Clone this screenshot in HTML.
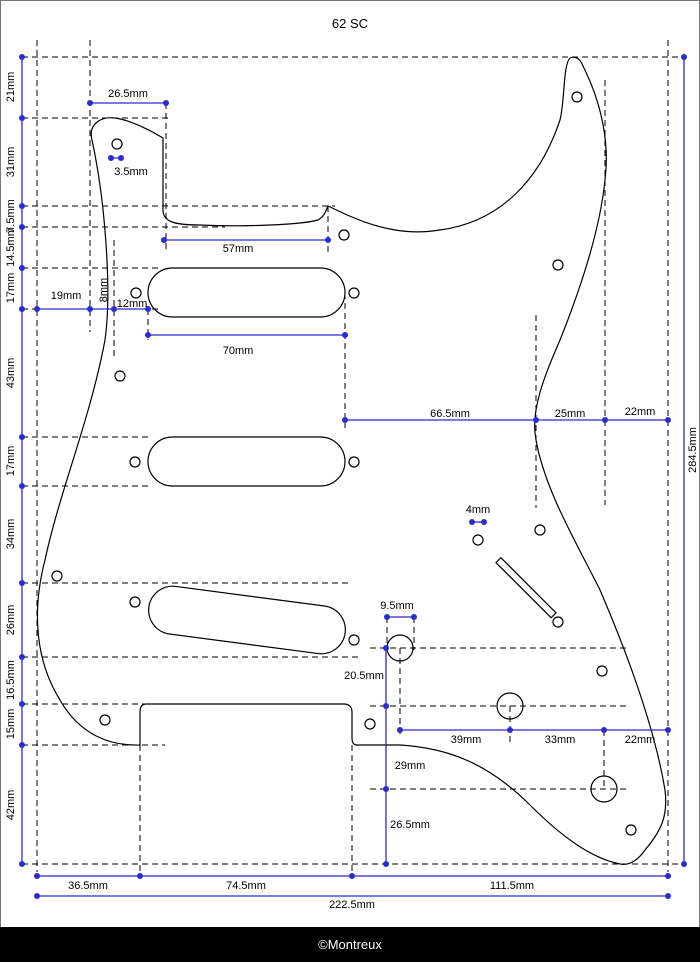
<!DOCTYPE html>
<html><head><style>
html,body{margin:0;padding:0;background:#fff}
svg{display:block}
text{font-family:"Liberation Sans",sans-serif;font-size:11px;fill:#000}
</style></head><body>
<svg width="700" height="962" viewBox="0 0 700 962" xmlns="http://www.w3.org/2000/svg">
<rect x="0.5" y="0.5" width="699" height="961" fill="#fff" stroke="#777"/>
<text x="350" y="28" text-anchor="middle" style="font-size:13px">62 SC</text>
<g stroke="#000" stroke-width="1" stroke-dasharray="6,4" fill="none">
<line x1="22" y1="57" x2="684" y2="57"/>
<line x1="22" y1="118" x2="172" y2="118"/>
<line x1="22" y1="206" x2="335" y2="206"/>
<line x1="22" y1="227" x2="225" y2="227"/>
<line x1="22" y1="268" x2="160" y2="268"/>
<line x1="22" y1="309" x2="160" y2="309"/>
<line x1="22" y1="437" x2="152" y2="437"/>
<line x1="22" y1="486" x2="152" y2="486"/>
<line x1="22" y1="583" x2="350" y2="583"/>
<line x1="22" y1="657" x2="360" y2="657"/>
<line x1="22" y1="704" x2="145" y2="704"/>
<line x1="22" y1="745" x2="165" y2="745"/>
<line x1="22" y1="864" x2="684" y2="864"/>
<line x1="37" y1="40" x2="37" y2="872"/>
<line x1="90" y1="40" x2="90" y2="332"/>
<line x1="668" y1="40" x2="668" y2="872"/>
<line x1="166" y1="103" x2="166" y2="250"/>
<line x1="328" y1="206" x2="328" y2="252"/>
<line x1="148" y1="309" x2="148" y2="340"/>
<line x1="345" y1="293" x2="345" y2="428"/>
<line x1="114" y1="240" x2="114" y2="360"/>
<line x1="536" y1="315" x2="536" y2="508"/>
<line x1="605" y1="80" x2="605" y2="505"/>
<line x1="387" y1="617" x2="387" y2="650"/>
<line x1="414" y1="617" x2="414" y2="650"/>
<line x1="370" y1="648" x2="630" y2="648"/>
<line x1="370" y1="706" x2="630" y2="706"/>
<line x1="370" y1="789" x2="630" y2="789"/>
<line x1="400" y1="648" x2="400" y2="738"/>
<line x1="510" y1="706" x2="510" y2="746"/>
<line x1="604" y1="730" x2="604" y2="789"/>
<line x1="140" y1="745" x2="140" y2="876"/>
<line x1="352" y1="745" x2="352" y2="876"/>
</g>
<g stroke="#000" stroke-width="1.2" fill="none">
<path d="M140,745 C110,746 80,735 60,700 C35,660 32,610 45,560 C60,490 90,420 105,340 C112,290 105,200 92,140 C88,125 100,116 115,118 C130,120 150,130 163,138 L163,210 C163,222 175,225 200,225 C240,227 300,225 318,220 C325,216 326,210 328,206 L345,214 C380,230 410,235 440,230 C500,222 540,180 560,120 C565,100 563,65 570,58 C575,56 580,58 583,66 C600,100 610,140 605,180 C600,230 580,290 560,340 C545,375 530,410 536,440 C545,490 575,540 600,590 C630,660 655,730 665,790 C668,815 662,830 645,850 C638,860 630,866 620,864 C590,858 560,835 530,805 C490,765 450,748 400,745 L357,745 C353,745 352,742 352,738 L352,712 C352,707 349,704 344,704 L146,704 C142,704 140,707 140,712 Z"/>
<rect x="148" y="268" width="197" height="49" rx="24.5"/>
<rect x="148" y="437" width="197" height="49" rx="24.5"/>
<rect x="148" y="596" width="198" height="48" rx="24" transform="rotate(7.5 247 620)"/>
<rect x="490" y="578" width="78" height="7" transform="rotate(45 520 581)"/>
<circle cx="400" cy="648" r="13"/><circle cx="510" cy="706" r="13"/><circle cx="604" cy="789" r="13"/>
<g r="5">
<circle cx="117" cy="144" r="5"/><circle cx="344" cy="235" r="5"/><circle cx="136" cy="293" r="5"/><circle cx="354" cy="293" r="5"/>
<circle cx="120" cy="376" r="5"/><circle cx="135" cy="462" r="5"/><circle cx="354" cy="462" r="5"/><circle cx="57" cy="576" r="5"/>
<circle cx="135" cy="602" r="5"/><circle cx="354" cy="640" r="5"/><circle cx="105" cy="720" r="5"/><circle cx="370" cy="724" r="5"/>
<circle cx="577" cy="97" r="5"/><circle cx="558" cy="265" r="5"/><circle cx="540" cy="530" r="5"/><circle cx="558" cy="622" r="5"/>
<circle cx="602" cy="671" r="5"/><circle cx="631" cy="830" r="5"/><circle cx="478" cy="540" r="5"/>
</g>
</g>
<g stroke="#2b2bd0" stroke-width="1.3" fill="none">
<line x1="22" y1="57" x2="22" y2="864"/>
<line x1="684" y1="57" x2="684" y2="864"/>
<line x1="90" y1="103" x2="166" y2="103"/>
<line x1="111" y1="158" x2="121" y2="158"/>
<line x1="164" y1="240" x2="328" y2="240"/>
<line x1="148" y1="335" x2="345" y2="335"/>
<line x1="37" y1="309" x2="148" y2="309"/>
<line x1="345" y1="420" x2="668" y2="420"/>
<line x1="472" y1="522" x2="484" y2="522"/>
<line x1="387" y1="617" x2="414" y2="617"/>
<line x1="386" y1="648" x2="386" y2="864"/>
<line x1="400" y1="730" x2="668" y2="730"/>
<line x1="37" y1="876" x2="668" y2="876"/>
<line x1="37" y1="896" x2="668" y2="896"/>
</g>
<g fill="#2b2bd0">
<circle cx="22" cy="57" r="3"/><circle cx="22" cy="118" r="3"/><circle cx="22" cy="206" r="3"/><circle cx="22" cy="227" r="3"/>
<circle cx="22" cy="268" r="3"/><circle cx="22" cy="309" r="3"/><circle cx="22" cy="437" r="3"/><circle cx="22" cy="486" r="3"/>
<circle cx="22" cy="583" r="3"/><circle cx="22" cy="657" r="3"/><circle cx="22" cy="704" r="3"/><circle cx="22" cy="745" r="3"/><circle cx="22" cy="864" r="3"/>
<circle cx="684" cy="57" r="3"/><circle cx="684" cy="864" r="3"/>
<circle cx="90" cy="103" r="3"/><circle cx="166" cy="103" r="3"/>
<circle cx="111" cy="158" r="3"/><circle cx="121" cy="158" r="3"/>
<circle cx="164" cy="240" r="3"/><circle cx="328" cy="240" r="3"/>
<circle cx="148" cy="335" r="3"/><circle cx="345" cy="335" r="3"/>
<circle cx="37" cy="309" r="3"/><circle cx="90" cy="309" r="3"/><circle cx="114" cy="309" r="3"/><circle cx="148" cy="309" r="3"/>
<circle cx="345" cy="420" r="3"/><circle cx="536" cy="420" r="3"/><circle cx="605" cy="420" r="3"/><circle cx="668" cy="420" r="3"/>
<circle cx="472" cy="522" r="3"/><circle cx="484" cy="522" r="3"/>
<circle cx="387" cy="617" r="3"/><circle cx="414" cy="617" r="3"/>
<circle cx="386" cy="648" r="3"/><circle cx="386" cy="706" r="3"/><circle cx="386" cy="789" r="3"/><circle cx="386" cy="864" r="3"/>
<circle cx="400" cy="730" r="3"/><circle cx="510" cy="730" r="3"/><circle cx="604" cy="730" r="3"/><circle cx="668" cy="730" r="3"/>
<circle cx="37" cy="876" r="3"/><circle cx="140" cy="876" r="3"/><circle cx="352" cy="876" r="3"/><circle cx="668" cy="876" r="3"/>
<circle cx="37" cy="896" r="3"/><circle cx="668" cy="896" r="3"/>
</g>
<g text-anchor="middle">
<text transform="translate(14,87) rotate(-90)">21mm</text>
<text transform="translate(14,162) rotate(-90)">31mm</text>
<text transform="translate(14,216) rotate(-90)">7.5mm</text>
<text transform="translate(14,247) rotate(-90)">14.5mm</text>
<text transform="translate(14,288) rotate(-90)">17mm</text>
<text transform="translate(14,373) rotate(-90)">43mm</text>
<text transform="translate(14,461) rotate(-90)">17mm</text>
<text transform="translate(14,534) rotate(-90)">34mm</text>
<text transform="translate(14,620) rotate(-90)">26mm</text>
<text transform="translate(14,680) rotate(-90)">16.5mm</text>
<text transform="translate(14,724) rotate(-90)">15mm</text>
<text transform="translate(14,805) rotate(-90)">42mm</text>
<text transform="translate(696,450) rotate(-90)">284.5mm</text>
<text transform="translate(107,290) rotate(-90)">8mm</text>
<text x="128" y="97">26.5mm</text>
<text x="131" y="175">3.5mm</text>
<text x="238" y="252">57mm</text>
<text x="238" y="354">70mm</text>
<text x="66" y="299">19mm</text>
<text x="132" y="307">12mm</text>
<text x="450" y="417">66.5mm</text>
<text x="570" y="417">25mm</text>
<text x="640" y="415">22mm</text>
<text x="478" y="513">4mm</text>
<text x="397" y="609">9.5mm</text>
<text x="364" y="679">20.5mm</text>
<text x="410" y="769">29mm</text>
<text x="410" y="828">26.5mm</text>
<text x="466" y="743">39mm</text>
<text x="560" y="743">33mm</text>
<text x="640" y="743">22mm</text>
<text x="88" y="889">36.5mm</text>
<text x="246" y="889">74.5mm</text>
<text x="512" y="889">111.5mm</text>
<text x="352" y="908">222.5mm</text>
</g>
<rect x="0" y="927" width="700" height="35" fill="#000"/>
<text x="350" y="949" text-anchor="middle" style="fill:#fff;font-size:13px">©Montreux</text>
</svg>
</body></html>
